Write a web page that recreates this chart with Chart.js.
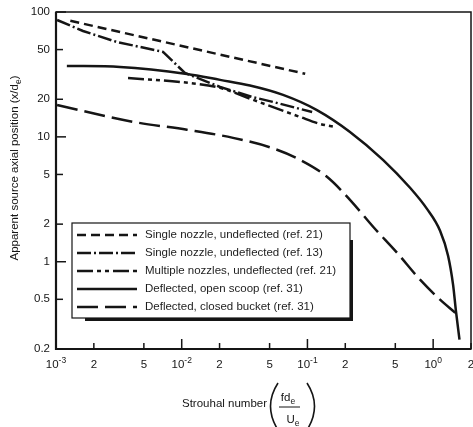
<!DOCTYPE html>
<html><head><meta charset="utf-8">
<script src="https://cdn.jsdelivr.net/npm/chart.js@4/dist/chart.umd.min.js"></script>
<style>html,body{margin:0;padding:0;background:#fff}</style>
</head><body>
<canvas id="c" width="473" height="427"></canvas>
<script>
// ---- data ----
const seriesNames = [
  'Single nozzle, undeflected (ref. 21)',
  'Single nozzle, undeflected (ref. 13)',
  'Multiple nozzles, undeflected (ref. 21)',
  'Deflected, open scoop (ref. 31)',
  'Deflected, closed bucket (ref. 31)'
];
const single21X = [0.0013, 0.096];
const single21Y = [85, 32];
const single13X = [0.00102, 0.00164, 0.00305, 0.00466, 0.0071, 0.0106, 0.0202, 0.0362, 0.0532, 0.109];
const single13Y = [86.3, 70.5, 57.5, 52.5, 47.9, 32.5, 25.1, 20.9, 19.05, 15.8];
const multi21X = [0.00374, 0.0116, 0.0202, 0.0369, 0.0873, 0.126, 0.166];
const multi21Y = [29.6, 27.0, 24.7, 19.8, 14.45, 12.7, 12.0];
const openX = [0.00122, 0.00323, 0.011, 0.0202, 0.0349, 0.064, 0.119, 0.218, 0.399, 0.655, 0.893, 1.135, 1.314, 1.44, 1.52, 1.62];
const openY = [37.0, 36.3, 31.9, 28.6, 25.8, 21.7, 16.4, 10.96, 6.55, 3.91, 2.65, 1.77, 1.117, 0.655, 0.398, 0.238];
const closedX = [0.00102, 0.0041, 0.011, 0.0256, 0.0532, 0.0873, 0.143, 0.218, 0.333, 0.516, 0.787, 1.135, 1.5];
const closedY = [18.0, 13.2, 11.4, 9.82, 8.1, 6.55, 4.79, 3.13, 1.905, 1.18, 0.718, 0.497, 0.39];

const xTickValues = [0.001, 0.002, 0.005, 0.01, 0.02, 0.05, 0.1, 0.2, 0.5, 1, 2];
const xTickLabels = ['10^-3', '2', '5', '10^-2', '2', '5', '10^-1', '2', '5', '10^0', '2'];
const yTickValues = [100, 50, 20, 10, 5, 2, 1, 0.5, 0.2];
const yTickLabels = ['100', '50', '20', '10', '5', '2', '1', '0.5', '0.2'];

const xTitle = 'Strouhal number';
const yTitle = 'Apparent source axial position (x/d';

// ---- build ----
const pts = (xs, ys) => xs.map((x, i) => ({x: x, y: ys[i]}));
const INK = '#151515';
const dashes = [[9, 5], [14, 3, 2, 3], [16, 4, 4, 4, 4, 4], [], [21, 7]];
const smooth = [false, false, true, true, true];
const seriesData = [
  pts(single21X, single21Y), pts(single13X, single13Y), pts(multi21X, multi21Y),
  pts(openX, openY), pts(closedX, closedY)
];
const datasets = seriesData.map((d, i) => ({
  label: seriesNames[i], data: d, borderColor: INK, borderWidth: 2.5,
  borderDash: dashes[i], pointRadius: 0, fill: false,
  cubicInterpolationMode: smooth[i] ? 'monotone' : 'default', tension: 0
}));

const FONT = '"Liberation Sans", Arial, sans-serif';

function drawSub(ctx, parts, x, y, align) {
  const sizes = {n: 11.5, sup: 8.5, sub: 8.5};
  let w = 0;
  parts.forEach(p => { ctx.font = sizes[p[1]] + 'px ' + FONT; w += ctx.measureText(p[0]).width; });
  let cx = align === 'center' ? x - w / 2 : (align === 'right' ? x - w : x);
  parts.forEach(p => {
    ctx.font = sizes[p[1]] + 'px ' + FONT;
    const dy = p[1] === 'sup' ? -5 : (p[1] === 'sub' ? 3 : 0);
    ctx.textAlign = 'left';
    ctx.fillText(p[0], cx, y + dy);
    cx += ctx.measureText(p[0]).width;
  });
}

const decor = {
  id: 'decor',
  afterDraw(chart) {
    const ctx = chart.ctx, a = chart.chartArea, xs = chart.scales.x, ys = chart.scales.y;
    ctx.save();
    ctx.strokeStyle = INK; ctx.fillStyle = INK;
    // frame
    ctx.lineWidth = 1.5;
    ctx.strokeRect(a.left, a.top, a.right - a.left, a.bottom - a.top);
    ctx.lineWidth = 2.2;
    ctx.beginPath(); ctx.moveTo(a.left, a.top); ctx.lineTo(a.left, a.bottom); ctx.lineTo(a.right, a.bottom); ctx.stroke();
    // x ticks + labels
    ctx.lineWidth = 1.5;
    ctx.textBaseline = 'alphabetic';
    xTickValues.forEach((v, i) => {
      const px = xs.getPixelForValue(v);
      const lab = xTickLabels[i];
      const major = lab.indexOf('^') >= 0;
      ctx.beginPath(); ctx.moveTo(px, a.bottom); ctx.lineTo(px, a.bottom - (major ? 10 : 6)); ctx.stroke();
      if (major) {
        const s = lab.split('^');
        drawSub(ctx, [[s[0], 'n'], [s[1], 'sup']], px, 368, 'center');
      } else {
        drawSub(ctx, [[lab, 'n']], px, 368, 'center');
      }
    });
    // y ticks + labels
    yTickValues.forEach((v, i) => {
      const py = ys.getPixelForValue(v);
      const major = Math.abs(Math.log10(v) - Math.round(Math.log10(v))) < 1e-6;
      ctx.beginPath(); ctx.moveTo(a.left, py); ctx.lineTo(a.left + (major ? 10 : 7), py); ctx.stroke();
      ctx.font = '11.5px ' + FONT; ctx.textAlign = 'right'; ctx.textBaseline = 'middle';
      ctx.fillText(yTickLabels[i], 50, py);
    });
    // y title (rotated)
    ctx.save();
    ctx.translate(18, 168); ctx.rotate(-Math.PI / 2);
    ctx.textBaseline = 'alphabetic';
    drawSub(ctx, [[yTitle, 'n'], ['e', 'sub'], [')', 'n']], 0, 0, 'center');
    ctx.restore();
    // x title
    ctx.textBaseline = 'alphabetic';
    drawSub(ctx, [[xTitle, 'n']], 182, 407, 'left');
    drawSub(ctx, [['fd', 'n'], ['e', 'sub']], 288, 401, 'center');
    drawSub(ctx, [['U', 'n'], ['e', 'sub']], 293, 423, 'center');
    ctx.lineWidth = 1;
    ctx.beginPath(); ctx.moveTo(279, 407); ctx.lineTo(300, 407); ctx.stroke();
    ctx.lineWidth = 1.6;
    ctx.beginPath(); ctx.moveTo(278, 383); ctx.quadraticCurveTo(263, 406, 278, 430); ctx.stroke();
    ctx.beginPath(); ctx.moveTo(307, 383); ctx.quadraticCurveTo(322, 406, 307, 430); ctx.stroke();
    // legend
    const lx = 72, ly = 223, lw = 278, lh = 95;
    ctx.fillStyle = INK;
    ctx.fillRect(lx + lw, ly + 17, 3, lh - 14);
    ctx.fillRect(lx + 13, ly + lh, lw - 10, 3);
    ctx.fillStyle = '#fff';
    ctx.fillRect(lx, ly, lw, lh);
    ctx.strokeStyle = INK; ctx.lineWidth = 1.2;
    ctx.strokeRect(lx, ly, lw, lh);
    chart.data.datasets.forEach((ds, i) => {
      const y = 235 + i * 18;
      ctx.save();
      ctx.setLineDash(ds.borderDash); ctx.lineWidth = 2.5; ctx.strokeStyle = INK;
      ctx.beginPath(); ctx.moveTo(77, y); ctx.lineTo(137, y); ctx.stroke();
      ctx.restore();
      ctx.fillStyle = '#1d1d1d'; ctx.font = '11.5px ' + FONT; ctx.textAlign = 'left'; ctx.textBaseline = 'middle';
      ctx.fillText(ds.label, 145, y);
    });
    ctx.restore();
  }
};

new Chart(document.getElementById('c'), {
  type: 'line',
  data: {datasets: datasets},
  options: {
    responsive: false, animation: false, devicePixelRatio: 1,
    layout: {padding: {left: 56, top: 12, right: 2, bottom: 78}},
    plugins: {legend: {display: false}, tooltip: {enabled: false}},
    scales: {
      x: {type: 'logarithmic', min: 0.001, max: 2, display: false},
      y: {type: 'logarithmic', min: 0.2, max: 100, display: false}
    }
  },
  plugins: [decor]
});
</script>
</body></html>
